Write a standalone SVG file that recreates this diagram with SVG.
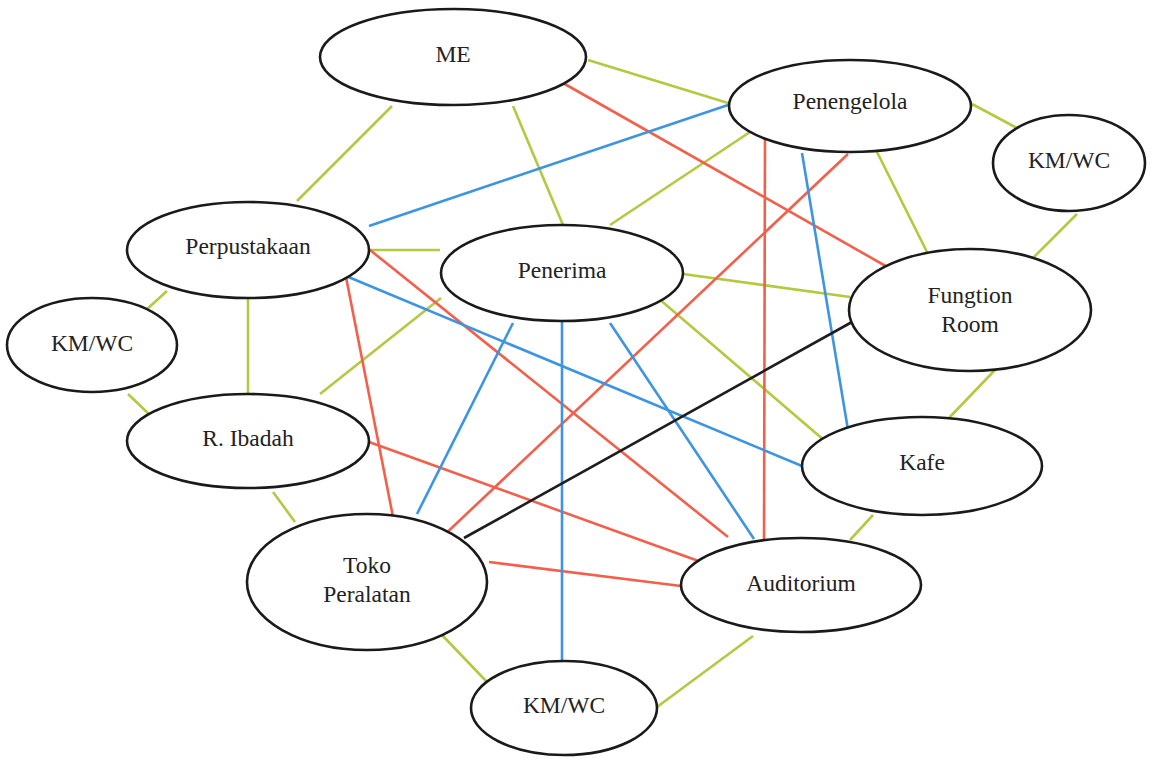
<svg xmlns="http://www.w3.org/2000/svg" width="1161" height="759" viewBox="0 0 1161 759">
  <style>
    .node ellipse { fill: #ffffff; stroke: #1a1a1a; stroke-width: 2.6; }
    .node text { font-family: "Liberation Serif", "Times New Roman", serif; font-size: 23.5px; fill: #222222; text-anchor: middle; }
    .link { stroke-width: 2.6; stroke-linecap: butt; fill: none; }
    .near { stroke: #b5c840; }
    .must { stroke: #f2604c; }
    .opt { stroke: #3d95e2; }
    .svc { stroke: #1e1e1e; }
  </style>
  <rect width="1161" height="759" fill="#ffffff"/>

  <g id="connectors">
    <!-- olive: close relation -->
    <line class="link near" x1="392" y1="106" x2="297" y2="201"/>
    <line class="link near" x1="513" y1="106" x2="563" y2="225"/>
    <line class="link near" x1="588" y1="60" x2="728" y2="103"/>
    <line class="link near" x1="753" y1="130" x2="610" y2="225"/>
    <line class="link near" x1="877" y1="152" x2="927" y2="252"/>
    <line class="link near" x1="972" y1="104" x2="1017" y2="128"/>
    <line class="link near" x1="1077" y1="214" x2="1028" y2="263"/>
    <line class="link near" x1="370" y1="250" x2="440" y2="250"/>
    <line class="link near" x1="683" y1="274" x2="850" y2="297"/>
    <line class="link near" x1="658" y1="298" x2="825" y2="441"/>
    <line class="link near" x1="167" y1="291" x2="146" y2="310"/>
    <line class="link near" x1="248" y1="298" x2="248" y2="394"/>
    <line class="link near" x1="441" y1="298" x2="320" y2="394"/>
    <line class="link near" x1="128" y1="394" x2="152" y2="417"/>
    <line class="link near" x1="273" y1="492" x2="295" y2="522"/>
    <line class="link near" x1="995" y1="370" x2="947" y2="420"/>
    <line class="link near" x1="873" y1="515" x2="850" y2="540"/>
    <line class="link near" x1="442" y1="635" x2="487" y2="682"/>
    <line class="link near" x1="753" y1="636" x2="657" y2="707"/>

    <!-- red: must relation -->
    <line class="link must" x1="563" y1="83" x2="898" y2="273"/>
    <line class="link must" x1="765" y1="132" x2="764" y2="540"/>
    <line class="link must" x1="848" y1="154" x2="441" y2="538"/>
    <line class="link must" x1="346" y1="277" x2="393" y2="517"/>
    <line class="link must" x1="370" y1="250" x2="728" y2="537"/>
    <line class="link must" x1="369" y1="442" x2="704" y2="563"/>
    <line class="link must" x1="489" y1="562" x2="681" y2="586"/>

    <!-- blue: optional relation -->
    <line class="link opt" x1="728" y1="105" x2="369" y2="226"/>
    <line class="link opt" x1="802" y1="153" x2="850" y2="442"/>
    <line class="link opt" x1="346" y1="276" x2="802" y2="466"/>
    <line class="link opt" x1="513" y1="323" x2="417" y2="514"/>
    <line class="link opt" x1="562" y1="321" x2="562" y2="661"/>
    <line class="link opt" x1="610" y1="323" x2="754" y2="539"/>

    <!-- black: service relation -->
    <line class="link svc" x1="852" y1="322" x2="464" y2="538"/>
  </g>

  <g id="me" class="node">
    <ellipse cx="453" cy="57" rx="133" ry="48"/>
    <text x="453" y="62">ME</text>
  </g>
  <g id="penengelola" class="node">
    <ellipse cx="850" cy="106" rx="121" ry="46"/>
    <text x="850" y="109">Penengelola</text>
  </g>
  <g id="kmwc-east" class="node">
    <ellipse cx="1069" cy="163" rx="76" ry="48"/>
    <text x="1069" y="168">KM/WC</text>
  </g>
  <g id="perpustakaan" class="node">
    <ellipse cx="248" cy="250" rx="121" ry="48"/>
    <text x="248" y="254">Perpustakaan</text>
  </g>
  <g id="penerima" class="node">
    <ellipse cx="562" cy="273" rx="121" ry="48"/>
    <text x="562" y="278">Penerima</text>
  </g>
  <g id="fungtion-room" class="node">
    <ellipse cx="970" cy="310" rx="121" ry="61"/>
    <text x="970" y="303">Fungtion</text>
    <text x="970" y="332">Room</text>
  </g>
  <g id="kmwc-west" class="node">
    <ellipse cx="92" cy="345" rx="85" ry="47"/>
    <text x="92" y="351">KM/WC</text>
  </g>
  <g id="r-ibadah" class="node">
    <ellipse cx="248" cy="441" rx="121" ry="47"/>
    <text x="248" y="446">R. Ibadah</text>
  </g>
  <g id="kafe" class="node">
    <ellipse cx="922" cy="466" rx="120" ry="49"/>
    <text x="922" y="470">Kafe</text>
  </g>
  <g id="auditorium" class="node">
    <ellipse cx="801" cy="585" rx="120" ry="47"/>
    <text x="801" y="591">Auditorium</text>
  </g>
  <g id="toko-peralatan" class="node">
    <ellipse cx="367" cy="582" rx="120" ry="68"/>
    <text x="367" y="573">Toko</text>
    <text x="367" y="602">Peralatan</text>
  </g>
  <g id="kmwc-south" class="node">
    <ellipse cx="564" cy="708" rx="93" ry="47"/>
    <text x="564" y="713">KM/WC</text>
  </g>
</svg>
